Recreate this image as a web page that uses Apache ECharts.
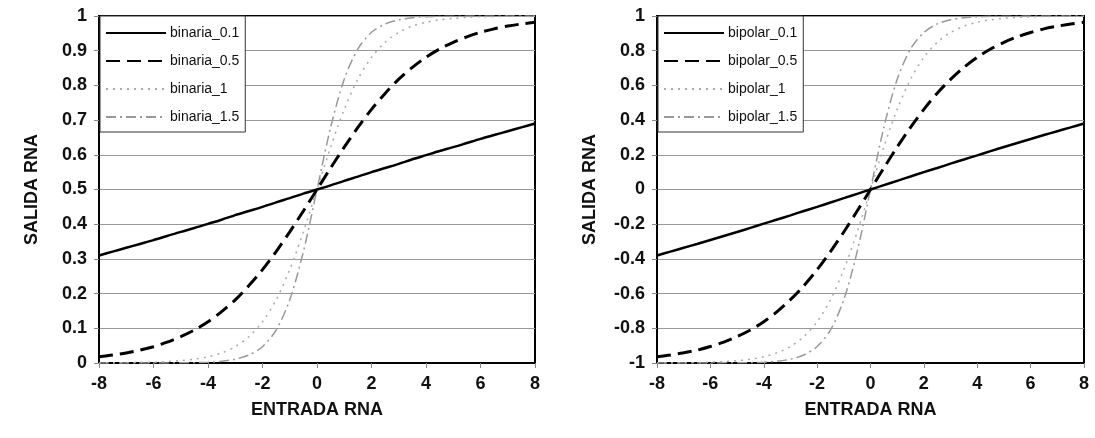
<!DOCTYPE html>
<html>
<head>
<meta charset="utf-8">
<title>Funciones de activación</title>
<script src="https://cdn.jsdelivr.net/npm/echarts@6/dist/echarts.min.js"></script>
<style>
  html, body { margin: 0; height: 100%; background: #fff; }
  #main { width: 1095px; height: 438px; }
</style>
</head>
<body>
<div id="main"></div>
<script>
// entrada de la red (eje x)
var entrada = [-8, -7.5, -7, -6.5, -6, -5.5, -5, -4.5, -4, -3.5, -3, -2.5, -2, -1.5, -1, -0.5, 0,
               0.5, 1, 1.5, 2, 2.5, 3, 3.5, 4, 4.5, 5, 5.5, 6, 6.5, 7, 7.5, 8];

// salida sigmoide binaria
var binaria_01 = [0.310, 0.321, 0.332, 0.343, 0.354, 0.366, 0.378, 0.389, 0.401, 0.413, 0.426, 0.438, 0.450, 0.463, 0.475, 0.488, 0.500,
                  0.512, 0.525, 0.537, 0.550, 0.562, 0.574, 0.587, 0.599, 0.611, 0.622, 0.634, 0.646, 0.657, 0.668, 0.679, 0.690];
var binaria_05 = [0.018, 0.023, 0.029, 0.037, 0.047, 0.060, 0.076, 0.095, 0.119, 0.148, 0.182, 0.223, 0.269, 0.321, 0.378, 0.438, 0.500,
                  0.562, 0.622, 0.679, 0.731, 0.777, 0.818, 0.852, 0.881, 0.905, 0.924, 0.940, 0.953, 0.963, 0.971, 0.977, 0.982];
var binaria_1  = [0.000, 0.001, 0.001, 0.002, 0.002, 0.004, 0.007, 0.011, 0.018, 0.029, 0.047, 0.076, 0.119, 0.182, 0.269, 0.378, 0.500,
                  0.622, 0.731, 0.818, 0.881, 0.924, 0.953, 0.971, 0.982, 0.989, 0.993, 0.996, 0.998, 0.998, 0.999, 0.999, 1.000];
var binaria_15 = [0.000, 0.000, 0.000, 0.000, 0.000, 0.000, 0.001, 0.001, 0.002, 0.005, 0.011, 0.023, 0.047, 0.095, 0.182, 0.321, 0.500,
                  0.679, 0.818, 0.905, 0.953, 0.977, 0.989, 0.995, 0.998, 0.999, 0.999, 1.000, 1.000, 1.000, 1.000, 1.000, 1.000];

// salida sigmoide bipolar
var bipolar_01 = [-0.380, -0.358, -0.336, -0.314, -0.291, -0.268, -0.245, -0.221, -0.197, -0.173, -0.149, -0.124, -0.100, -0.075, -0.050, -0.025, 0,
                  0.025, 0.050, 0.075, 0.100, 0.124, 0.149, 0.173, 0.197, 0.221, 0.245, 0.268, 0.291, 0.314, 0.336, 0.358, 0.380];
var bipolar_05 = [-0.964, -0.954, -0.941, -0.926, -0.905, -0.880, -0.848, -0.810, -0.762, -0.704, -0.635, -0.555, -0.462, -0.358, -0.245, -0.124, 0,
                  0.124, 0.245, 0.358, 0.462, 0.555, 0.635, 0.704, 0.762, 0.810, 0.848, 0.880, 0.905, 0.926, 0.941, 0.954, 0.964];
var bipolar_1  = [-0.999, -0.999, -0.998, -0.997, -0.995, -0.992, -0.987, -0.978, -0.964, -0.941, -0.905, -0.848, -0.762, -0.635, -0.462, -0.245, 0,
                  0.245, 0.462, 0.635, 0.762, 0.848, 0.905, 0.941, 0.964, 0.978, 0.987, 0.992, 0.995, 0.997, 0.998, 0.999, 0.999];
var bipolar_15 = [-1.000, -1.000, -1.000, -1.000, -1.000, -0.999, -0.999, -0.998, -0.995, -0.990, -0.978, -0.954, -0.905, -0.810, -0.635, -0.358, 0,
                  0.358, 0.635, 0.810, 0.905, 0.954, 0.978, 0.990, 0.995, 0.998, 0.999, 0.999, 1.000, 1.000, 1.000, 1.000, 1.000];

var FONT = '"Liberation Sans", Arial, sans-serif';

function pares(ys) {
  var out = [];
  for (var i = 0; i < entrada.length; i++) out.push([entrada[i], ys[i]]);
  return out;
}

// estilos de linea: solida, rayas, puntos, raya-punto
var estilos = [
  { color: '#000', width: 2.5, type: 'solid' },
  { color: '#000', width: 3, type: [14, 7] },
  { color: '#aaa', width: 1.5, type: [2, 5] },
  { color: '#999', width: 1.5, type: [10, 4, 2, 4] }
];

function serie(nombre, ys, idx, k) {
  var st = estilos[k];
  return {
    name: nombre,
    type: 'line',
    xAxisIndex: idx,
    yAxisIndex: idx,
    data: pares(ys),
    smooth: 0.3,
    symbol: 'none',
    z: 10 - k,
    lineStyle: { color: st.color, width: st.width, type: st.type },
    itemStyle: { color: st.color }
  };
}

function ejeX(idx) {
  return {
    type: 'value', gridIndex: idx, min: -8, max: 8, interval: 2,
    name: 'ENTRADA RNA', nameLocation: 'middle', nameGap: 38,
    nameTextStyle: { fontFamily: FONT, fontWeight: 'bold', fontSize: 18, color: '#111' },
    axisLine: { show: true, onZero: false, lineStyle: { color: '#000', width: 2 } },
    axisTick: { show: true, length: 5, lineStyle: { color: '#888' } },
    axisLabel: { fontFamily: FONT, fontWeight: 'bold', fontSize: 18, color: '#111', margin: 12 },
    splitLine: { show: false }
  };
}

function ejeY(idx, min, max, step) {
  return {
    type: 'value', gridIndex: idx, min: min, max: max, interval: step,
    name: 'SALIDA RNA', nameLocation: 'middle', nameGap: 58, nameRotate: 90,
    nameTextStyle: { fontFamily: FONT, fontWeight: 'bold', fontSize: 18, color: '#111' },
    axisLine: { show: true, onZero: false, lineStyle: { color: '#000', width: 2 } },
    axisTick: { show: true, length: 5, lineStyle: { color: '#888' } },
    axisLabel: { fontFamily: FONT, fontWeight: 'bold', fontSize: 18, color: '#111', margin: 12 },
    splitLine: { show: true, lineStyle: { color: '#999', width: 1 } }
  };
}

function leyenda(left, nombres) {
  return {
    left: left, top: 16, orient: 'vertical',
    data: nombres,
    itemWidth: 60, itemHeight: 14, itemGap: 14,
    padding: [10, 6, 8, 5],
    backgroundColor: '#fff',
    borderColor: '#333', borderWidth: 1, borderRadius: 0,
    itemStyle: { opacity: 0 },
    textStyle: { fontFamily: FONT, fontSize: 14, color: '#111', padding: [0, 0, 0, -1] },
    z: 20
  };
}

var chart = echarts.init(document.getElementById('main'));
chart.setOption({
  animation: false,
  backgroundColor: '#fff',
  grid: [
    { left: 99, right: 560, top: 16, bottom: 75, show: true, borderColor: '#000', borderWidth: 2, backgroundColor: '#fff' },
    { left: 657, right: 11, top: 16, bottom: 75, show: true, borderColor: '#000', borderWidth: 2, backgroundColor: '#fff' }
  ],
  legend: [
    leyenda(100, ['binaria_0.1', 'binaria_0.5', 'binaria_1', 'binaria_1.5']),
    leyenda(658, ['bipolar_0.1', 'bipolar_0.5', 'bipolar_1', 'bipolar_1.5'])
  ],
  xAxis: [ejeX(0), ejeX(1)],
  yAxis: [ejeY(0, 0, 1, 0.1), ejeY(1, -1, 1, 0.2)],
  series: [
    serie('binaria_0.1', binaria_01, 0, 0),
    serie('binaria_0.5', binaria_05, 0, 1),
    serie('binaria_1', binaria_1, 0, 2),
    serie('binaria_1.5', binaria_15, 0, 3),
    serie('bipolar_0.1', bipolar_01, 1, 0),
    serie('bipolar_0.5', bipolar_05, 1, 1),
    serie('bipolar_1', bipolar_1, 1, 2),
    serie('bipolar_1.5', bipolar_15, 1, 3)
  ]
});
</script>
</body>
</html>
